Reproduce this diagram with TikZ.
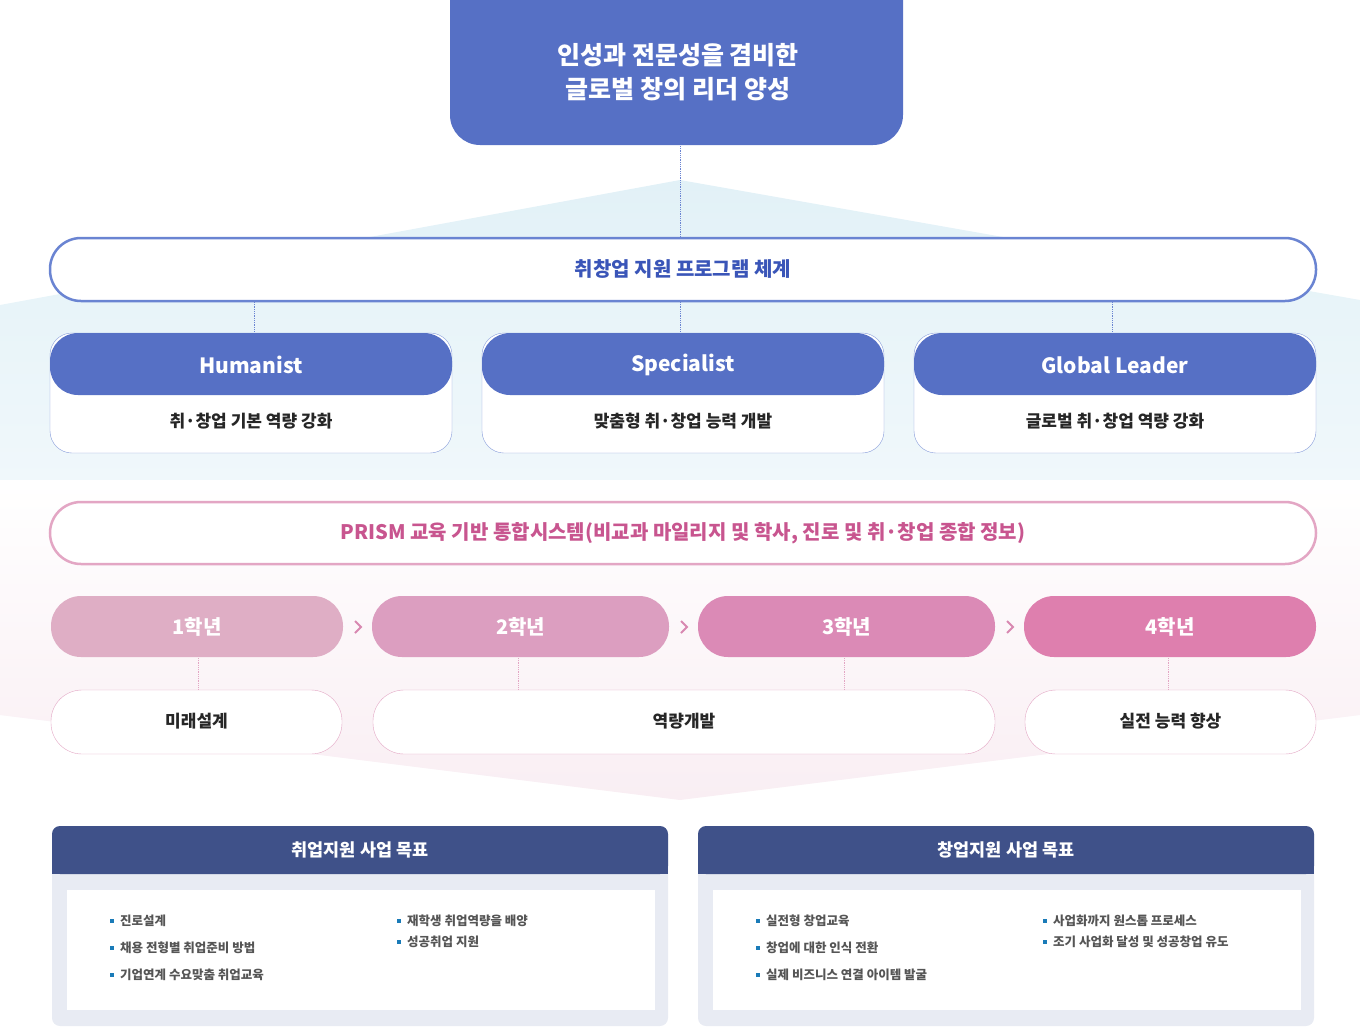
\documentclass[tikz,border=0pt]{standalone}
\usepackage{fontspec}
\setmainfont{Noto Sans CJK KR}
\usetikzlibrary{positioning,calc}
\definecolor{topblue}{HTML}{5670C5}
\definecolor{lineblue}{HTML}{6A84D2}
\definecolor{textblue}{HTML}{3A55B8}
\definecolor{pinkline}{HTML}{E3A6C4}
\definecolor{pinktext}{HTML}{C8558F}
\definecolor{navy}{HTML}{3F5189}
\definecolor{panelbg}{HTML}{E8EBF3}
\definecolor{bulletblue}{HTML}{1A7BB8}
\definecolor{itemgray}{HTML}{555555}
\definecolor{skyfade}{HTML}{E2F1F7}
\definecolor{pinkfade}{HTML}{F9EEF3}
\tikzset{
  dotline/.style={densely dotted, thick, lineblue},
  pinkdot/.style={densely dotted, thick, pinkline},
  cardbox/.style={draw=lineblue!80, rounded corners=22pt, fill=white},
  itemtext/.style={anchor=west, font=\fontsize{12.5}{14}\selectfont\bfseries, text=itemgray, inner sep=0pt},
}
\newcommand\bulletitem[2]{%
  \fill[bulletblue] ($#1+(0,-2)$) rectangle ++(4,4);
  \node[itemtext] at ($#1+(10,0)$) {#2};}
\begin{document}
\begin{tikzpicture}[x=1pt,y=-1pt]
\useasboundingbox (0,0) rectangle (1360,1026);
\clip (0,0) rectangle (1360,1026);
% background
\shade[top color=skyfade, bottom color=white] (680,180) -- (1360,300) -- (1360,715) -- (680,800) -- (0,715) -- (0,305) -- cycle;
\shade[top color=white, bottom color=pinkfade] (0,480) -- (1360,480) -- (1360,715) -- (680,800) -- (0,715) -- cycle;
% top goal
\fill[topblue, rounded corners=30pt] (450,-40) rectangle (903,145);
\node[text=white, font=\fontsize{25}{34}\selectfont\bfseries, align=center] (goal) at (678,72) {인성과 전문성을 겸비한\\글로벌 창의 리더 양성};
% program
\draw[lineblue, line width=2.5pt, rounded corners=31pt, fill=white] (50,238) rectangle (1316,301);
\node[text=textblue, font=\fontsize{20}{22}\selectfont\bfseries] (prog) at (683,269) {취창업 지원 프로그램 체계};
\draw[dotline] (680,146) -- (680,237);
% three tracks
\foreach \x/\d/\name/\sub in {50/204/Humanist/{취·창업 기본 역량 강화}, 482/198/Specialist/{맞춤형 취·창업 능력 개발}, 914/198/Global Leader/{글로벌 취·창업 역량 강화}}{
  \draw[cardbox] (\x,333) rectangle ++(402,120);
  \fill[topblue, rounded corners=28pt] (\x,333) rectangle ++(402,62);
  \node[text=white, font=\fontsize{21}{24}\selectfont\bfseries] at (\x+201,365) {\name};
  \node[text=black!85, font=\fontsize{17}{20}\selectfont\bfseries] at (\x+201,421) {\sub};
  \draw[dotline] (\x+\d,302) -- (\x+\d,332);
}
% PRISM
\draw[pinkline, line width=2.5pt, rounded corners=31pt, fill=white] (50,502) rectangle (1316,564);
\node[text=pinktext, font=\fontsize{20}{22}\selectfont\bfseries] (prism) at (683,533) {PRISM 교육 기반 통합시스템(비교과 마일리지 및 학사, 진로 및 취·창업 종합 정보)};
% years
\foreach \a/\b/\c/\lbl in {51/343/DFAEC5/1학년, 372/669/DC9EC0/2학년, 698/995/DB8AB6/3학년, 1024/1316/DE7FAE/4학년}{
  \definecolor{pc}{HTML}{\c}
  \fill[pc, rounded corners=30pt] (\a,596) rectangle (\b,657);
  \node[text=white, font=\fontsize{20}{22}\selectfont\bfseries] at ({(\a+\b)/2},627) {\lbl};
}
\foreach \x in {358,684,1010}
  \draw[pinktext!70, line width=2pt] (\x-3,621) -- (\x+3,627) -- (\x-3,633);
% stages
\foreach \a/\b/\lbl in {51/342/미래설계, 373/995/역량개발, 1025/1316/실전 능력 향상}{
  \draw[pinkline, rounded corners=31pt, fill=white] (\a,690) rectangle (\b,754);
  \node[text=black!85, font=\fontsize{17}{20}\selectfont\bfseries] at ({(\a+\b)/2},721) {\lbl};
}
\foreach \x in {198,518,844,1168}
  \draw[pinkdot] (\x,658) -- (\x,689);
% goals panels
\foreach \x/\ttl in {52/취업지원 사업 목표, 698/창업지원 사업 목표}{
  \fill[panelbg, rounded corners=8pt] (\x,826) rectangle ++(616,200);
  \fill[navy, rounded corners=8pt] (\x,826) rectangle ++(616,48);
  \fill[navy] (\x,860) rectangle ++(616,14);
  \fill[white] (\x+15,890) rectangle ++(588,120);
  \node[text=white, font=\fontsize{17.5}{20}\selectfont\bfseries] at (\x+308,850) {\ttl};
}
\bulletitem{(110,921)}{진로설계}
\bulletitem{(110,948)}{채용 전형별 취업준비 방법}
\bulletitem{(110,975)}{기업연계 수요맞춤 취업교육}
\bulletitem{(397,921)}{재학생 취업역량을 배양}
\bulletitem{(397,942)}{성공취업 지원}
\bulletitem{(756,921)}{실전형 창업교육}
\bulletitem{(756,948)}{창업에 대한 인식 전환}
\bulletitem{(756,975)}{실제 비즈니스 연결 아이템 발굴}
\bulletitem{(1043,921)}{사업화까지 원스톱 프로세스}
\bulletitem{(1043,942)}{조기 사업화 달성 및 성공창업 유도}
\end{tikzpicture}
\end{document}
